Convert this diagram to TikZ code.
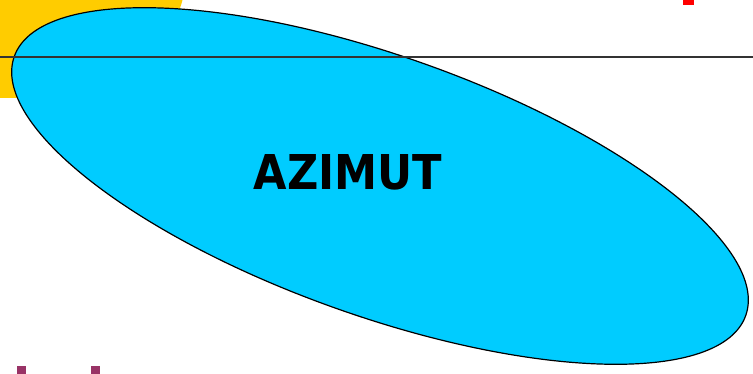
\documentclass[tikz,border=0pt]{standalone}
\usepackage{fontspec}
\newfontfamily\labelfont{DejaVu Sans}
\definecolor{skyfill}{HTML}{00CCFF}
\definecolor{sunfill}{HTML}{FFCC00}
\definecolor{markpurple}{HTML}{993366}
\definecolor{markred}{HTML}{FF0000}
\tikzset{
  skyshape/.style={fill=skyfill, draw=black, line width=1.2pt},
  sunshape/.style={fill=sunfill},
  horizon/.style={draw=black!80, line width=2pt},
  biglabel/.style={font=\labelfont\bfseries\fontsize{48}{48}\selectfont, xscale=0.9, inner sep=0pt}
}
\begin{document}
\begin{tikzpicture}[x=1pt,y=1pt]
\useasboundingbox (0,0) rectangle (753,-374);
\clip (0,0) rectangle (753,-374);
\fill[white] (0,0) rectangle (753,-374);
% yellow shape at top left
\path[sunshape] (10,20) ellipse (175 and 118);
% cyan ellipse
\path[skyshape, rotate around={-19.5:(380,-186)}] (380,-186) ellipse (388 and 130);
% horizon line
\coordinate (hl) at (0,-57);
\coordinate (hr) at (753,-57);
\draw[horizon] (hl) -- (hr);
% label
\node[biglabel] (azimut) at (348,-172) {AZIMUT};
% cut-off marks at the edges
\fill[markred] (683,0) rectangle (694,-5);
\fill[markpurple] (17,-366) rectangle (26,-374);
\fill[markpurple] (91,-366) rectangle (100,-374);
\end{tikzpicture}
\end{document}
